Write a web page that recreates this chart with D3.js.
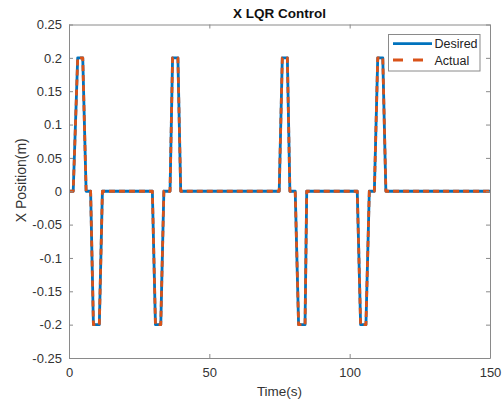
<!DOCTYPE html>
<html>
<head>
<meta charset="utf-8">
<script src="https://cdn.jsdelivr.net/npm/d3@7"></script>
<style>
  html, body { margin: 0; padding: 0; background: #fff; }
  svg { display: block; font-family: "Liberation Sans", Arial, sans-serif; }
</style>
</head>
<body>
<svg id="chart" width="503" height="401"></svg>
<script>
// Breakpoints of the reference trajectory (time in s, position in m)
const timeS = [0, 1.5, 3.1, 4.9, 6.1, 7.7, 8.7, 10.8, 11.9, 29.7, 30.8, 32.7, 33.8, 36.0, 36.9, 38.8, 39.8,
               74.9, 76.0, 77.8, 78.7, 80.6, 81.8, 84.1, 84.7, 102.7, 103.9, 105.8, 107.0, 108.8, 110.0, 111.8, 112.9, 150];
const desired = [0, 0, 0.2, 0.2, 0, 0, -0.2, -0.2, 0, 0, -0.2, -0.2, 0, 0, 0.2, 0.2, 0,
                 0, 0.2, 0.2, 0, 0, -0.2, -0.2, 0, 0, -0.2, -0.2, 0, 0, 0.2, 0.2, 0, 0];
// Measured position tracks the reference
const actual = [0, 0, 0.2, 0.2, 0, 0, -0.2, -0.2, 0, 0, -0.2, -0.2, 0, 0, 0.2, 0.2, 0,
                0, 0.2, 0.2, 0, 0, -0.2, -0.2, 0, 0, -0.2, -0.2, 0, 0, 0.2, 0.2, 0, 0];
const xTicks = [0, 50, 100, 150];
const yTicks = [-0.25, -0.2, -0.15, -0.1, -0.05, 0, 0.05, 0.1, 0.15, 0.2, 0.25];
const seriesNames = ["Desired", "Actual"];

const svg = d3.select("#chart");
const L = 69, R = 490, T = 24.5, B = 358;
const x = d3.scaleLinear().domain([0, 150]).range([L, R]);
const y = d3.scaleLinear().domain([-0.25, 0.25]).range([B, T]);

const axisColor = "#8a8a8a";
const textColor = "#333";
const blue = "#0072BD", orange = "#D95319";

// Plot lines
const line = d3.line().x((d, i) => x(timeS[i])).y(d => y(d));
svg.append("path").datum(desired).attr("d", line)
  .attr("fill", "none").attr("stroke", blue).attr("stroke-width", 2.8)
  .attr("stroke-linejoin", "round");
svg.append("path").datum(actual).attr("d", line)
  .attr("fill", "none").attr("stroke", orange).attr("stroke-width", 2.8)
  .attr("stroke-dasharray", "6,4").attr("stroke-linejoin", "round");

// Axes (ticks pointing inward, mirrored on top/right); plain hyphen for negatives
const fmtY = d => String(+d.toFixed(2));
const gx = svg.append("g").attr("transform", `translate(0,${B})`)
  .call(d3.axisBottom(x).tickValues(xTicks).tickSizeInner(-4).tickSizeOuter(0).tickPadding(10).tickFormat(d => String(d)));
const gxTop = svg.append("g").attr("transform", `translate(0,${T})`)
  .call(d3.axisTop(x).tickValues(xTicks).tickSizeInner(-4).tickSizeOuter(0).tickFormat(""));
const gy = svg.append("g").attr("transform", `translate(${L},0)`)
  .call(d3.axisLeft(y).tickValues(yTicks).tickSizeInner(-4).tickSizeOuter(0).tickPadding(7).tickFormat(fmtY));
const gyR = svg.append("g").attr("transform", `translate(${R},0)`)
  .call(d3.axisRight(y).tickValues(yTicks).tickSizeInner(-4).tickSizeOuter(0).tickFormat(""));
[gx, gxTop, gy, gyR].forEach(g => {
  g.selectAll("path.domain").attr("stroke", axisColor);
  g.selectAll(".tick line").attr("stroke", axisColor);
  g.selectAll(".tick text").attr("fill", textColor).style("font-size", "13px")
    .style("font-family", "'Liberation Sans', Arial, sans-serif");
});

// Title and axis labels
svg.append("text").attr("x", (L + R) / 2).attr("y", 18).attr("text-anchor", "middle")
  .style("font-size", "13.5px").style("font-weight", "bold").attr("fill", "#111").text("X LQR Control");
svg.append("text").attr("x", (L + R) / 2).attr("y", 396).attr("text-anchor", "middle")
  .style("font-size", "13.5px").attr("fill", textColor).text("Time(s)");
svg.append("text").attr("transform", `translate(26,${(T + B) / 2 - 11}) rotate(-90)`)
  .attr("text-anchor", "middle").style("font-size", "14px").attr("fill", textColor).text("X Position(m)");

// Legend
const lg = svg.append("g");
lg.append("rect").attr("x", 388.5).attr("y", 34.5).attr("width", 91.5).attr("height", 36.5)
  .attr("fill", "#fff").attr("stroke", axisColor);
const styles = [{ c: blue, dash: null }, { c: orange, dash: "10,10" }];
seriesNames.forEach((name, i) => {
  const yy = 43.7 + i * 16.3;
  lg.append("line").attr("x1", 393).attr("x2", 432).attr("y1", yy).attr("y2", yy)
    .attr("stroke", styles[i].c).attr("stroke-width", 2.8).attr("stroke-dasharray", styles[i].dash);
  lg.append("text").attr("x", 434.5).attr("y", yy + 4.5).style("font-size", "12.5px")
    .attr("fill", "#222").text(name);
});
</script>
</body>
</html>
